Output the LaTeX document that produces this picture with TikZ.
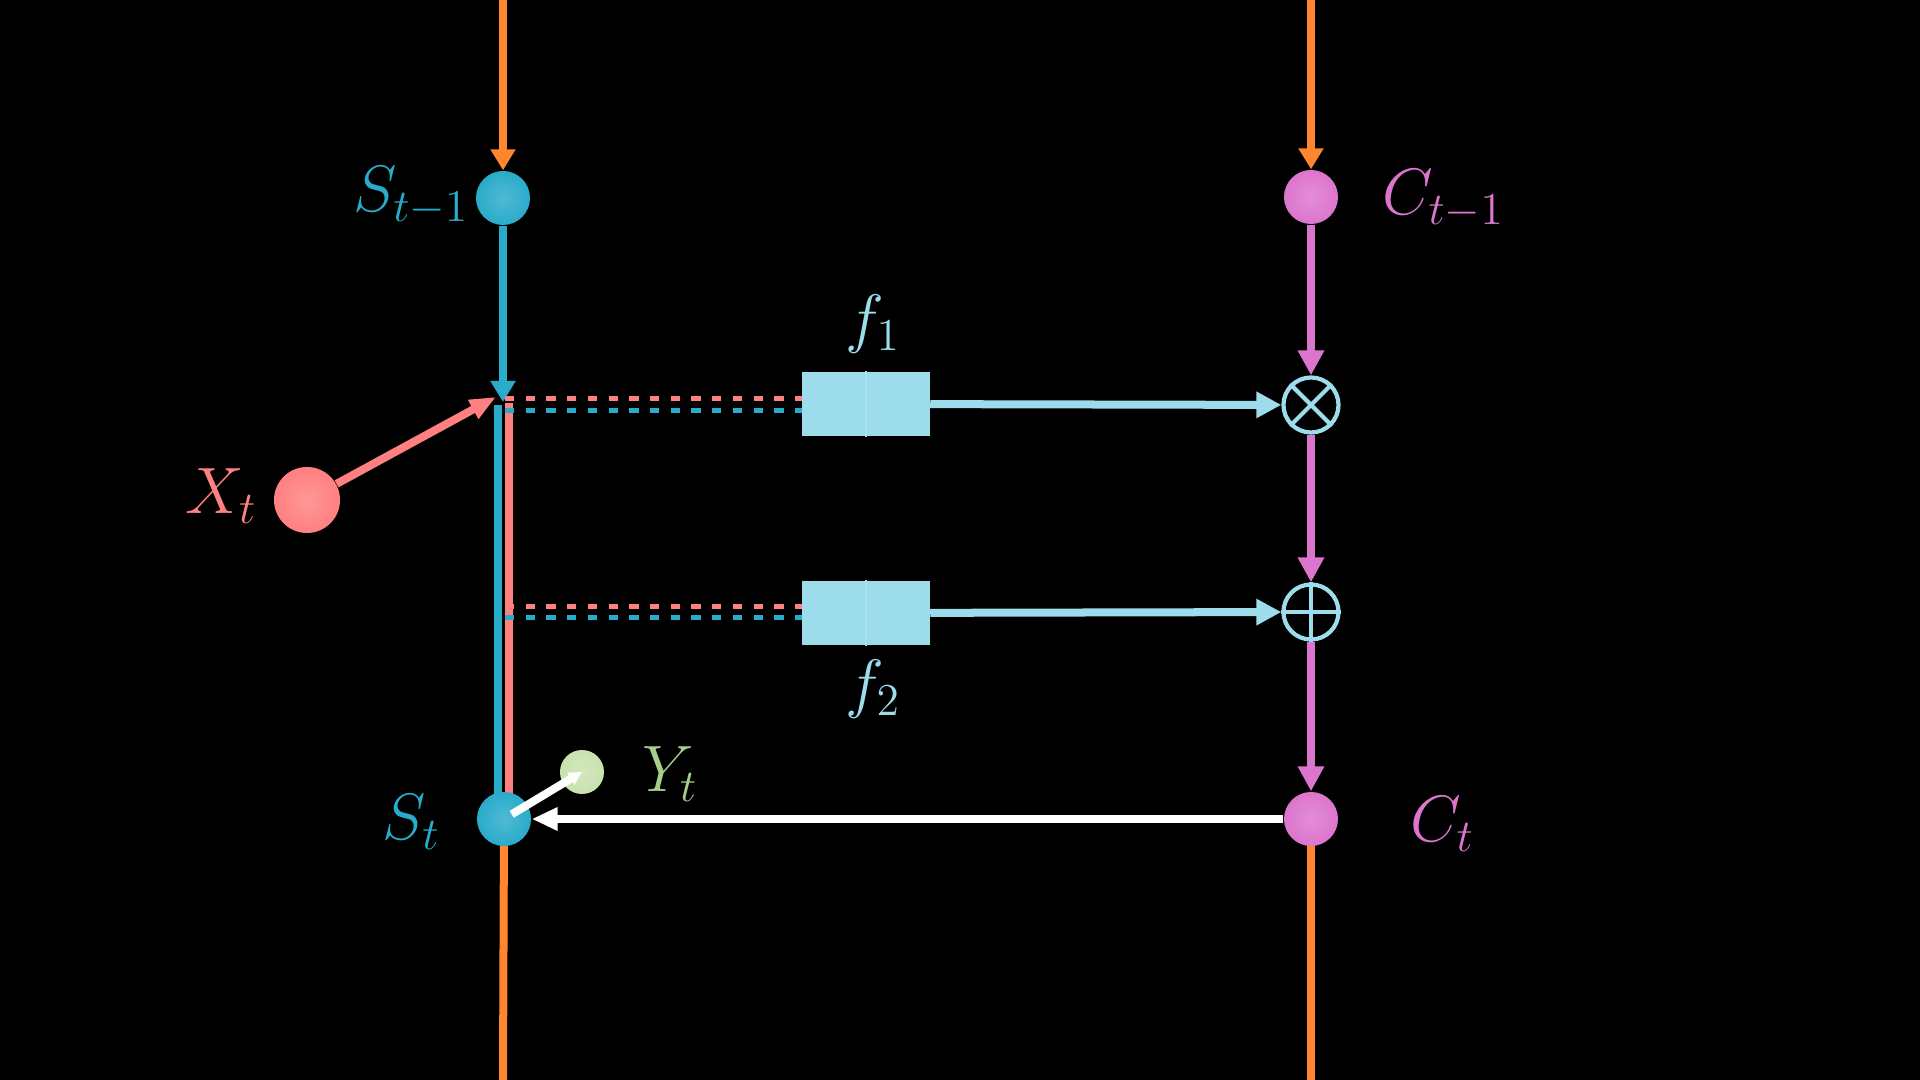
\documentclass[tikz,border=0pt]{standalone}
\usetikzlibrary{arrows.meta}
\definecolor{orng}{HTML}{FF862F}
\definecolor{sblue}{HTML}{29ABCA}
\definecolor{cpink}{HTML}{DC75CD}
\definecolor{xred}{HTML}{FF8080}
\definecolor{lblue}{HTML}{9CDCEB}
\definecolor{ygreen}{HTML}{C9E2AE}
\definecolor{ylabel}{HTML}{A6CF8C}
\pgfdeclarelayer{bg}
\pgfsetlayers{bg,main}
\begin{document}
\begin{tikzpicture}[x=0.01cm,y=-0.01cm,
  ball/.style={circle,inner sep=0pt,minimum size=0.54cm,shading=radial,inner color=#1!82!white,outer color=#1},
  opnode/.style={circle,draw=lblue,line width=1.2pt,inner sep=0pt,minimum size=0.55cm},
  fbox/.style={rectangle,fill=lblue,inner sep=0pt,minimum width=1.27cm,minimum height=0.64cm},
  lbl/.style={inner sep=0pt,font=\LARGE,scale=1.08,transform shape},
  wire/.style={line width=0.08cm},
  tipbig/.style={-{Triangle[length=0.25cm,width=0.25cm]}},
  tipmid/.style={-{Triangle[length=0.21cm,width=0.24cm]}},
  dashln/.style={line width=0.05cm,dash pattern=on 0.093cm off 0.114cm}]
\begin{pgfonlayer}{bg}
\fill[black] (0,0) rectangle (1920,1080);
\end{pgfonlayer}
\useasboundingbox (0,0) rectangle (1920,1080);
% coordinates
\coordinate (topL) at (503,0);
\coordinate (topR) at (1311,0);
\coordinate (botL) at (503,1080);
\coordinate (botR) at (1311,1080);
\coordinate (J) at (503,402);
\coordinate (Jx) at (496,397);
\coordinate (vb) at (498,405);
\coordinate (vp) at (509,403);
\coordinate (d1p) at (505,399);
\coordinate (d1b) at (505,411);
\coordinate (d2p) at (505,607);
\coordinate (d2b) at (505,618);
% nodes
\node[ball=sblue] (S0) at (503,198) {};
\node[ball=cpink] (C0) at (1311,197) {};
\node[ball=xred,minimum size=0.66cm] (X) at (307,500) {};
\node[ball=sblue] (S1) at (504,819) {};
\node[ball=cpink] (C1) at (1311,819) {};
\node[ball=ygreen,minimum size=0.44cm] (Y) at (582,772) {};
\node[opnode] (mul) at (1311,405) {};
\node[opnode] (add) at (1311,612) {};
\draw[lblue,line width=1.2pt] (mul.north west) -- (mul.south east) (mul.north east) -- (mul.south west);
\draw[lblue,line width=1.2pt] (add.north) -- (add.south) (add.west) -- (add.east);
\node[fbox] (f1) at (866,404) {};
\node[fbox] (f2) at (866,613) {};
\draw[lblue!88!white,line width=0.6pt] (f1.north) -- (f1.south) (f2.north) -- (f2.south);
% labels
\node[lbl,text=sblue,anchor=base west] (lS0) at (353,212) {$S_{t-1}$};
\node[lbl,text=cpink,anchor=base west] (lC0) at (1382,215) {$C_{t-1}$};
\node[lbl,text=xred,anchor=base west] (lX) at (185,514) {$X_t$};
\node[lbl,text=sblue,anchor=base west] (lS1) at (382,840) {$S_t$};
\node[lbl,text=cpink,anchor=base west] (lC1) at (1410,842) {$C_t$};
\node[lbl,text=ylabel,anchor=base west] (lY) at (642,792) {$Y_t$};
\node[lbl,text=lblue] (lf1) at (873,324) {$f_1$};
\node[lbl,text=lblue] (lf2) at (873,689) {$f_2$};
% background vertical lines
\begin{pgfonlayer}{bg}
\draw[wire,sblue] (vb) -- (vb |- S1.center);
\draw[wire,xred] (vp) -- (vp |- S1.center);
\draw[wire,orng] (S1.center) -- (botL);
\draw[wire,orng] (C1.center) -- (botR);
\end{pgfonlayer}
% connectors
\draw[wire,orng,tipmid] (topL) -- (S0);
\draw[wire,orng,tipmid] (topR) -- (C0);
\draw[wire,sblue,tipmid] (S0) -- (J);
\draw[wire,cpink,tipbig] (C0) -- (mul);
\draw[wire,cpink,tipbig] (mul) -- (add);
\draw[wire,cpink,tipbig] (add) -- (C1);
\draw[wire,lblue,tipbig] (f1) -- (mul);
\draw[wire,lblue,tipbig] (f2) -- (add);
\draw[wire,xred,-{Triangle[length=0.26cm,width=0.2cm]}] (X) -- (Jx);
\draw[dashln,xred] (d1p) -- (f1.west |- d1p);
\draw[dashln,sblue] (d1b) -- (f1.west |- d1b);
\draw[dashln,xred] (d2p) -- (f2.west |- d2p);
\draw[dashln,sblue] (d2b) -- (f2.west |- d2b);
\draw[wire,white,-{Triangle[length=0.26cm,width=0.22cm]}] (C1) -- (S1);
\draw[wire,white,shorten <=0.09cm,-{Triangle[length=0.13cm,width=0.13cm]}] (S1.center) -- (Y.center);
\end{tikzpicture}
\end{document}
